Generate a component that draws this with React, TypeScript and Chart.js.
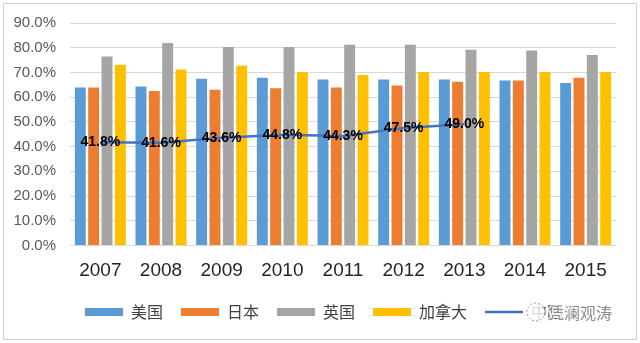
import React, { useEffect, useRef } from "react";
import { Chart, registerables } from "chart.js";

Chart.register(...registerables);

const years = ["2007", "2008", "2009", "2010", "2011", "2012", "2013", "2014", "2015"];
const usa = [63.9, 64.3, 67.5, 67.9, 67.1, 67.1, 67.1, 66.7, 65.7];
const japan = [63.9, 62.5, 63.0, 63.6, 63.9, 64.7, 66.2, 66.7, 67.9];
const uk = [76.5, 81.9, 80.3, 80.3, 81.2, 81.2, 79.2, 78.9, 77.1];
const canada = [73.1, 71.2, 72.7, 70.2, 69.0, 70.2, 70.2, 70.2, 70.2];
const china = [41.8, 41.6, 43.6, 44.8, 44.3, 47.5, 49.0, null, null];
const seriesNames = ["美国", "日本", "英国", "加拿大", "中国"];
const watermark = "凭澜观涛";

const FONT = "'Liberation Sans', Arial, sans-serif";
const NARROW = "'Liberation Sans Narrow', 'Liberation Sans', Arial, sans-serif";
const CJK = "'Noto Sans CJK SC', 'Liberation Sans', sans-serif";

const framePlugin = {
  id: "frame",
  afterLayout(chart: any) {
    if (chart.legend) chart.legend.left += 32;
  },
  beforeDraw(chart: any) {
    const ctx = chart.ctx;
    ctx.save();
    ctx.fillStyle = "#ffffff";
    ctx.fillRect(0, 0, chart.width, chart.height);
    ctx.strokeStyle = "#d0d0d0";
    ctx.lineWidth = 1;
    ctx.strokeRect(3.5, 3.5, chart.width - 7, chart.height - 7);
    ctx.restore();
  },
  afterDatasetsDraw(chart: any) {
    const ctx = chart.ctx;
    const meta = chart.getDatasetMeta(4);
    ctx.save();
    ctx.font = `bold 14px ${NARROW}`;
    ctx.fillStyle = "#000000";
    ctx.textAlign = "center";
    ctx.textBaseline = "middle";
    meta.data.forEach((pt: any, i: number) => {
      const v = china[i];
      if (v == null) return;
      ctx.fillText(`${v.toFixed(1)}%`, pt.x, pt.y);
    });
    ctx.restore();
  },
  afterDraw(chart: any) {
    const ctx = chart.ctx;
    const legend = chart.legend;
    const cy = legend.top + 18 + 8;
    const x0 = chart.chartArea.right - 80;
    ctx.save();
    ctx.fillStyle = "rgba(255,255,255,0.8)";
    ctx.beginPath();
    ctx.arc(x0, cy, 9, 0, Math.PI * 2);
    ctx.fill();
    ctx.strokeStyle = "#9a9a9a";
    ctx.setLineDash([2, 2]);
    ctx.lineWidth = 1;
    ctx.stroke();
    ctx.setLineDash([]);
    ctx.font = `16px ${CJK}`;
    ctx.textBaseline = "middle";
    ctx.lineWidth = 3;
    ctx.strokeStyle = "rgba(255,255,255,0.8)";
    ctx.strokeText(watermark, x0 + 12, cy + 1);
    ctx.fillStyle = "#8a8a8a";
    ctx.fillText(watermark, x0 + 12, cy + 1);
    ctx.restore();
  },
};

export default function App() {
  const ref = useRef<HTMLCanvasElement>(null);
  useEffect(() => {
    const colors = ["#5B9BD5", "#ED7D31", "#A5A5A5", "#FFC000"];
    const bars = [usa, japan, uk, canada].map((d, i) => ({
      type: "bar" as const,
      label: seriesNames[i],
      data: d,
      backgroundColor: colors[i],
      borderWidth: 0,
      categoryPercentage: 0.88,
      barPercentage: 0.82,
      order: 0,
    }));
    const chart = new Chart(ref.current as HTMLCanvasElement, {
      data: {
        labels: years,
        datasets: [
          ...bars,
          {
            type: "line" as const,
            label: seriesNames[4],
            data: china,
            borderColor: "#4472C4",
            backgroundColor: "#4472C4",
            borderWidth: 2.5,
            pointRadius: 0,
            tension: 0,
            spanGaps: false,
            order: -1,
          },
        ] as any,
      },
      options: {
        animation: false,
        responsive: false,
        devicePixelRatio: 1,
        layout: { padding: { left: 0, right: 24, top: 23, bottom: 13 } },
        plugins: {
          tooltip: { enabled: false },
          legend: {
            position: "bottom",
            labels: {
              font: { size: 16, family: CJK },
              color: "#404040",
              padding: 18,
              usePointStyle: true,
              pointStyleWidth: 38,
              boxHeight: 8,
              sort: (a: any, b: any) => a.datasetIndex - b.datasetIndex,
              generateLabels: (chart: any) => {
                const items = Chart.defaults.plugins.legend.labels.generateLabels(chart);
                return items.map((it: any) => {
                  if (it.datasetIndex === 4) {
                    return { ...it, pointStyle: "line", lineWidth: 2.5, strokeStyle: "#4472C4", fillStyle: "#4472C4" };
                  }
                  return { ...it, pointStyle: "rect", lineWidth: 0 };
                });
              },
            },
          },
        },
        scales: {
          x: {
            grid: { display: false, drawTicks: false },
            border: { display: false },
            ticks: { font: { size: 19, family: FONT }, color: "#262626", padding: 14 },
            afterFit: (s: any) => {
              s.height = 40.5;
            },
          },
          y: {
            min: 0,
            max: 90,
            grid: { color: "#D9D9D9", lineWidth: 1, drawTicks: false },
            border: { display: false },
            ticks: {
              stepSize: 10,
              font: { size: 15, family: FONT },
              color: "#595959",
              padding: 14,
              callback: (v: any) => `${Number(v).toFixed(1)}%`,
            },
            afterFit: (s: any) => {
              s.width = 70;
            },
          },
        },
      },
      plugins: [framePlugin],
    } as any);
    return () => chart.destroy();
  }, []);
  return (
    <div style={{ position: "fixed", left: 0, top: 0, width: 640, height: 343, background: "#fff" }}>
      <canvas ref={ref} width={640} height={343} style={{ display: "block", width: 640, height: 343 }} />
    </div>
  );
}
